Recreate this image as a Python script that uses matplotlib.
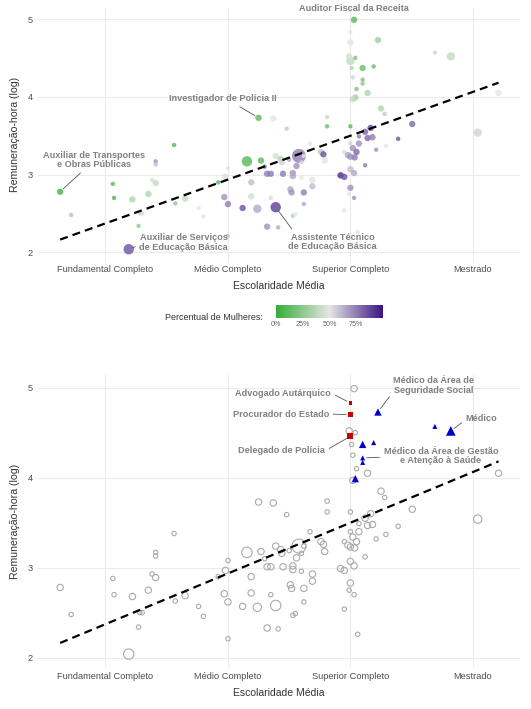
import numpy as np
import matplotlib
matplotlib.use("Agg")
import matplotlib.pyplot as plt
from matplotlib.colors import LinearSegmentedColormap

plt.rcParams['font.family'] = ['Liberation Sans', 'DejaVu Sans']

# ---------------- data ----------------
esc_labels = ["Fundamental Completo", "Médio Completo", "Superior Completo", "Mestrado"]
esc_ticks = [1, 2, 3, 4]
y_ticks = [2, 3, 4, 5]

escolaridade = [0.63, 0.72, 1.06, 1.07, 1.22, 1.27, 1.28, 1.30, 1.35, 1.38,
                1.41, 1.41, 1.41, 1.56, 1.57, 1.65, 1.76, 1.80, 1.19, 1.92,
                1.98, 2.00, 1.97, 2.00, 2.00, 2.12, 2.155, 2.24, 2.27, 2.25,
                2.19, 2.19, 2.32, 2.30, 2.32, 2.35, 2.37, 2.81, 2.81, 2.48,
                2.39, 2.43, 2.44, 2.50, 2.56, 2.58, 2.60, 2.62, 2.45, 2.53,
                2.53, 2.60, 2.69, 2.69, 2.51, 2.52, 2.62, 2.62, 2.35, 2.39,
                2.53, 2.55, 2.41, 2.67, 2.76, 2.78, 2.79, 2.92, 2.95, 3.00,
                3.03, 3.00, 2.99, 3.03, 2.95, 3.06, 2.95, 2.98, 3.00, 3.035,
                3.02, 3.05, 3.00, 3.07, 3.07, 3.14, 3.18, 3.12, 3.165, 3.00,
                3.21, 3.12, 3.03, 3.00, 3.00, 3.225, 3.00, 2.99, 3.04, 3.10,
                3.19, 3.01, 3.02, 3.10, 3.10, 3.05, 3.14, 3.04, 3.02, 3.69,
                3.82, 4.21, 4.04, 3.505, 3.39, 3.29, 3.25, 3.28]

remuneracao = [2.78, 2.48, 2.88, 2.70, 2.68, 2.34, 2.50, 2.50, 2.75, 2.93,
               2.89, 3.17, 3.13, 3.38, 2.63, 2.69, 2.57, 2.46, 2.04, 2.90,
               2.97, 3.08, 2.71, 2.62, 2.21, 2.57, 3.17, 2.56, 3.18, 3.73,
               2.90, 2.72, 2.33, 3.10, 3.01, 3.01, 3.72, 3.74, 3.62, 3.59,
               3.24, 3.20, 3.16, 3.19, 3.11, 3.24, 3.16, 3.24, 3.01, 3.02,
               2.98, 2.96, 2.93, 2.85, 2.81, 2.77, 2.77, 2.62, 2.70, 2.58,
               2.47, 2.49, 2.32, 3.40, 3.29, 3.26, 3.18, 2.99, 2.97, 3.07,
               3.02, 2.83, 2.75, 2.70, 2.54, 2.26, 3.29, 3.25, 3.23, 3.22,
               3.34, 3.29, 3.40, 3.40, 3.49, 3.47, 3.48, 3.55, 3.60, 3.62,
               3.32, 3.12, 4.99, 4.83, 4.70, 4.73, 4.46, 4.52, 4.50, 4.37,
               4.39, 4.37, 4.25, 4.22, 4.17, 4.10, 4.05, 3.99, 3.97, 4.57,
               4.52, 4.05, 3.54, 3.65, 3.46, 3.37, 3.85, 3.78]

tamanho = [2, 1, 1, 1, 2, 1, 1, 1, 2, 1,
           2, 1, 1, 1, 1, 2, 1, 1, 4, 1,
           2, 1, 2, 2, 1, 2, 4, 3, 2, 2,
           2, 2, 2, 1, 2, 2, 2, 1, 1, 1,
           2, 2, 2, 1, 2, 5, 1, 1, 2, 2,
           2, 1, 2, 2, 2, 2, 2, 1, 1, 4,
           1, 1, 1, 1, 2, 2, 2, 2, 2, 2,
           2, 2, 1, 1, 1, 1, 1, 2, 2, 2,
           2, 2, 1, 2, 1, 2, 2, 2, 2, 1,
           1, 1, 2, 1, 2, 2, 3, 2, 1, 2,
           1, 1, 1, 1, 1, 1, 2, 2, 2, 1,
           3, 2, 3, 2, 1, 1, 2, 1]

pct_mulheres = [5, 30, 10, 8, 35, 25, 40, 45, 35, 45,
                40, 70, 60, 10, 25, 40, 50, 50, 85, 10,
                52, 50, 70, 75, 35, 85, 10, 65, 10, 10,
                60, 45, 70, 75, 75, 75, 50, 40, 15, 35,
                45, 35, 55, 65, 70, 75, 55, 50, 75, 70,
                65, 50, 50, 60, 65, 70, 75, 65, 45, 90,
                35, 50, 65, 50, 35, 85, 50, 95, 85, 60,
                65, 70, 50, 70, 50, 50, 45, 65, 70, 75,
                70, 80, 40, 70, 75, 80, 75, 80, 85, 10,
                70, 75, 10, 50, 50, 30, 40, 45, 20, 15,
                15, 35, 55, 20, 25, 20, 35, 30, 40, 55,
                40, 50, 55, 80, 85, 50, 35, 35]

# o = outros, j = carreiras jurídicas/policiais, m = médicos
grupo = list("oooooooooo"
             "oooooooooo"
             "oooooooooo"
             "oooooooooo"
             "oooooooooo"
             "oooooooooo"
             "oooooooooo"
             "oooooooooo"
             "oooooooooo"
             "ooojjmjoom"
             "moommoomom"
             "mooooooo")

# labels: (index of point, text, offset in points, relpos)
labels_top = [
    (92, "Auditor Fiscal da Receita", (0, 7.8), None),
    (29, "Investigador de Polícia II", (-25.5, 13.7), (0.6, 0.0)),
    (0, "Auxiliar de Transportes\ne Obras Públicas", (24.2, 22.8), (0.41, 0.0)),
    (18, "Auxiliar de Serviços\nde Educação Básica", (39.5, 4.9), (0.0, 0.35)),
    (59, "Assistente Técnico\nde Educação Básica", (41.1, -25.0), (0.07, 1.0)),
]
labels_bot = [
    (93, "Advogado Autárquico", (-48.3, 7.2), (1.0, 0.5)),
    (94, "Procurador do Estado", (-50.1, 0.5), (1.0, 0.5)),
    (96, "Delegado de Polícia", (-49.4, -10.4), (1.0, 0.5)),
    (95, "Médico da Área de\nSeguridade Social", (40.1, 19.2), (0.0, 0.15)),
    (110, "Médico", (22.1, 8.6), (0.0, 0.4)),
    (103, "Médico da Área de Gestão\ne Atenção à Saúde", (56.4, 1.2), (0.0, 0.45)),
]

x = np.array(escolaridade)
y = np.array(remuneracao)
sz = np.array(tamanho)
pc = np.array(pct_mulheres, dtype=float)
gr = np.array(grupo)

# ---------------- styling ----------------
W, H = 531, 709
fig = plt.figure(figsize=(W / 100, H / 100), dpi=100)

radius_px = {1: 2.2, 2: 3.2, 3: 4.2, 4: 5.2, 5: 7.0}
def area(cls, scale=1.0):
    return np.array([(2 * radius_px[c] * scale * 0.72) ** 2 for c in cls])

cmap = LinearSegmentedColormap.from_list(
    "gp", [(0.0, "#36ad36"), (0.5, "#e6e6e6"), (1.0, "#3a1482")])

xlim = (0.449, 4.385)
ylim = (1.882, 5.138)
grid_c = "#ebebeb"
tick_c = "#4d4d4d"
title_c = "#333333"
lab_c = "#808080"

def style(ax):
    ax.set_xlim(*xlim)
    ax.set_ylim(*ylim)
    for s in ax.spines.values():
        s.set_visible(False)
    ax.set_xticks(esc_ticks)
    ax.set_xticklabels(esc_labels)
    ax.set_yticks(y_ticks)
    ax.tick_params(length=0, labelsize=6.7, colors=tick_c)
    ax.tick_params(axis='x', pad=2.8)
    ax.tick_params(axis='y', pad=4)
    ax.grid(True, color=grid_c, lw=0.8)
    ax.set_axisbelow(True)
    ax.set_xlabel("Escolaridade Média", fontsize=7.5, color=title_c, labelpad=5)
    ax.set_ylabel("Remuneração-hora (log)", fontsize=7.6, color=title_c, labelpad=5)

# trend line (linear fit)
coef = np.polyfit(x, y, 1)
xl = np.array([x.min(), x.max()])
yl = np.polyval(coef, xl)

def annotate(ax, items):
    for idx, txt, off, rp in items:
        kw = dict(xy=(x[idx], y[idx]), xytext=off, textcoords='offset points',
                  ha='center', va='center', fontsize=6.6, fontweight='bold',
                  color=lab_c, linespacing=1.05, zorder=6)
        if rp is not None:
            kw['arrowprops'] = dict(arrowstyle='-', color='#555555', lw=0.6,
                                    relpos=rp, shrinkA=1, shrinkB=3)
        ax.annotate(txt, **kw)

# ---- top panel ----
ax1 = fig.add_axes([38 / W, 1 - 261.5 / H, 482 / W, 253.2 / H])
style(ax1)
sc = ax1.scatter(x, y, s=area(sz), c=pc, cmap=cmap, vmin=0, vmax=100,
                 alpha=0.8, edgecolors='none', zorder=3)
ax1.plot(xl, yl, color='black', lw=1.6, ls=(0, (3.6, 2.3)), zorder=4)
annotate(ax1, labels_top)

# colorbar legend
cax = fig.add_axes([276 / W, 1 - 318 / H, 107 / W, 13 / H])
grad = np.linspace(0, 100, 256).reshape(1, -1)
cax.imshow(grad, aspect='auto', cmap=cmap, vmin=0, vmax=100,
           extent=[0, 100, 0, 1])
cax.set_xlim(0, 100)
cax.set_yticks([])
cax.set_xticks([0, 25, 50, 75])
cax.set_xticklabels(["0%", "25%", "50%", "75%"])
cax.tick_params(length=0, labelsize=5.2, colors="#666666", pad=2)
for s in cax.spines.values():
    s.set_visible(False)
fig.text(263 / W, 1 - 317 / H, "Percentual de Mulheres:", ha='right',
         va='center', fontsize=6.5, color=title_c)

# ---- bottom panel ----
ax2 = fig.add_axes([38 / W, 1 - 668.3 / H, 482 / W, 293 / H])
style(ax2)
m_o = gr == 'o'
m_j = gr == 'j'
m_m = gr == 'm'
ax2.scatter(x[m_o], y[m_o], s=area(sz[m_o]), facecolors='none',
            edgecolors='#aaaaaa', linewidths=0.8, zorder=3)
ax2.plot(xl, yl, color='black', lw=1.6, ls=(0, (3.6, 2.3)), zorder=4)
ax2.scatter(x[m_j], y[m_j], s=area(sz[m_j], 0.7), marker='s',
            color='#c80000', edgecolors='none', zorder=5)
ax2.scatter(x[m_m], y[m_m], s=area(sz[m_m], 1.15), marker='^',
            color='#0000c8', edgecolors='none', zorder=5)
annotate(ax2, labels_bot)

fig.savefig("out.png", dpi=100, facecolor='white')
